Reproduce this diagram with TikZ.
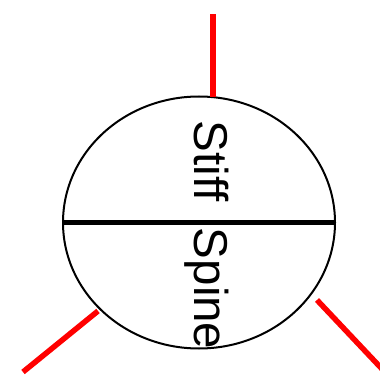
\documentclass[tikz,border=0pt]{standalone}
\usepackage{fontspec}
\setmainfont{Liberation Sans}
\usetikzlibrary{shapes.geometric}
\tikzset{
  body/.style={draw=black, line width=2pt, ellipse, minimum width=272pt, minimum height=252pt, inner sep=0pt},
  leg/.style={draw=red, line width=5.5pt},
  divider/.style={draw=black, line width=5pt},
  label/.style={rotate=-90, inner sep=0pt, anchor=base, font=\fontsize{47.5}{57}\selectfont}
}
\begin{document}
\begin{tikzpicture}[x=1pt,y=-1pt]
\useasboundingbox (0,0) rectangle (380,377);
\node[body] (ell) at (199,222.5) {};
\draw[divider] (ell.west) -- (ell.east);
\node[label] (txt) at (194,235) {Stiff\ \ Spine};
\coordinate (topend) at (213,14);
\coordinate (topstart) at (213,97);
\coordinate (blstart) at (98,311);
\coordinate (blend) at (23,372);
\coordinate (brstart) at (317,300);
\coordinate (brend) at (383,370);
\draw[leg] (topstart) -- (topend);
\draw[leg] (blstart) -- (blend);
\draw[leg] (brstart) -- (brend);
\end{tikzpicture}
\end{document}
